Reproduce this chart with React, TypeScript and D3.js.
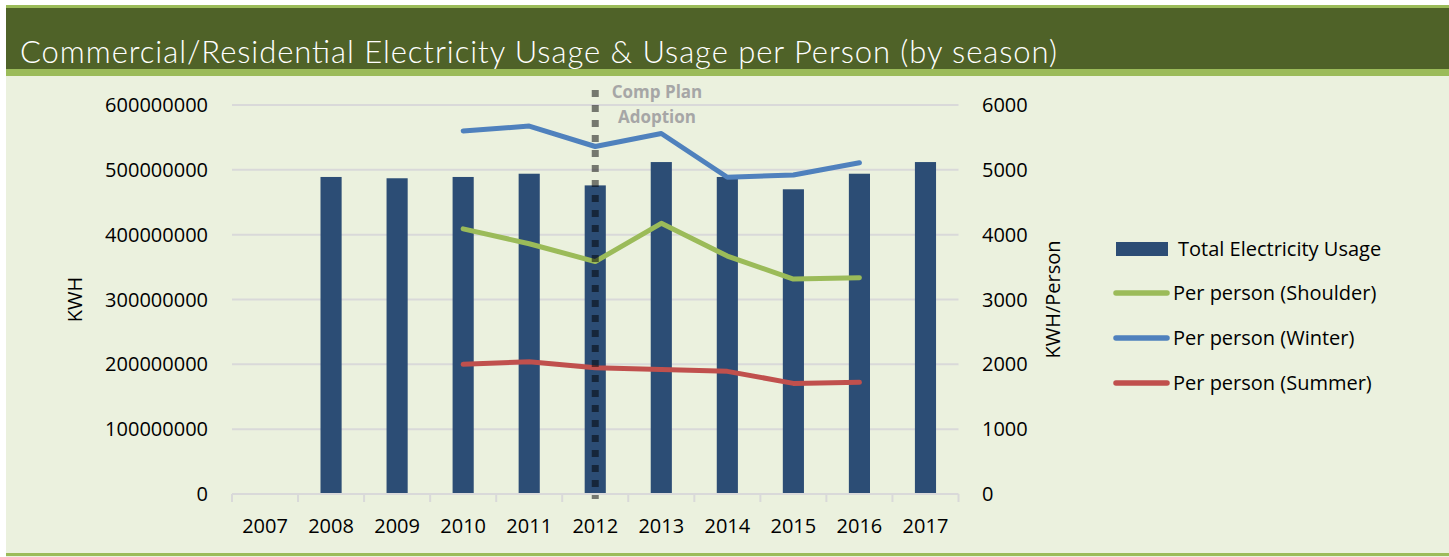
import * as React from "react"
import * as d3 from "d3"

const years = ["2007", "2008", "2009", "2010", "2011", "2012", "2013", "2014", "2015", "2016", "2017"]
const totalUsage = [null, 489e6, 487e6, 489e6, 494e6, 476e6, 512e6, 489e6, 470e6, 494e6, 512e6]
const shoulder = [null, null, null, 4090, 3860, 3585, 4175, 3670, 3315, 3335, null]
const winter = [null, null, null, 5600, 5675, 5360, 5560, 4885, 4920, 5110, null]
const summer = [null, null, null, 2000, 2040, 1948, 1922, 1892, 1706, 1722, null]
const leftTicks = [0, 1e8, 2e8, 3e8, 4e8, 5e8, 6e8]
const rightTicks = [0, 1000, 2000, 3000, 4000, 5000, 6000]

const seriesLines = [
  { name: "Per person (Shoulder)", values: shoulder, color: "#9bbb59" },
  { name: "Per person (Winter)", values: winter, color: "#4f81bd" },
  { name: "Per person (Summer)", values: summer, color: "#c0504d" },
]

const W = 1449
const H = 557
const font = "'Open Sans', sans-serif"

export default function App() {
  const plot = { left: 232, right: 958.5, top: 105, bottom: 494 }

  const x = d3.scaleBand().domain(years).range([plot.left, plot.right])
  const yLeft = d3.scaleLinear().domain([0, 6e8]).range([plot.bottom, plot.top])
  const yRight = d3.scaleLinear().domain([0, 6000]).range([plot.bottom, plot.top])
  const barW = x.bandwidth() * 0.32
  const cx = (yr: string) => (x(yr) as number) + x.bandwidth() / 2

  const line = d3
    .line<number | null>()
    .defined((d) => d != null)
    .x((_, i) => cx(years[i]))
    .y((d) => yRight(d as number))

  const compX = cx("2012")

  return (
    <svg width={W} height={H} style={{ position: "absolute", left: 0, top: 0 }}>
      <rect x={0} y={0} width={W} height={H} fill="#ffffff" />
      <rect x={6} y={5} width={W - 6} height={H - 5} fill="#ebf1de" />
      {/* header band */}
      <rect x={6} y={5} width={W - 6} height={3} fill="#9bbb59" />
      <rect x={6} y={8} width={W - 6} height={61} fill="#4f6228" />
      <rect x={6} y={69} width={W - 6} height={7} fill="#9bbb59" />
      <text
        x={20}
        y={63}
        fill="#ffffff"
        fontFamily="Lato, sans-serif"
        fontWeight={300}
        fontSize={31}
        textLength={1037}
        lengthAdjust="spacing"
      >
        Commercial/Residential Electricity Usage &amp; Usage per Person (by season)
      </text>
      <rect x={6} y={553} width={W - 6} height={3} fill="#9bbb59" />

      {/* gridlines */}
      {leftTicks.slice(1).map((t) => (
        <line key={t} x1={plot.left} x2={plot.right} y1={yLeft(t)} y2={yLeft(t)} stroke="#d9d9d9" strokeWidth={2} />
      ))}

      {/* bars */}
      {years.map((yr, i) =>
        totalUsage[i] == null ? null : (
          <rect
            key={yr}
            x={cx(yr) - barW / 2}
            y={yLeft(totalUsage[i] as number)}
            width={barW}
            height={plot.bottom - yLeft(totalUsage[i] as number)}
            fill="#2c4d75"
          />
        )
      )}

      {/* x axis */}
      <line x1={plot.left} x2={plot.right} y1={plot.bottom} y2={plot.bottom} stroke="#d9d9d9" strokeWidth={2} />
      {[...years.map((yr) => x(yr) as number), plot.right].map((t, i) => (
        <line key={i} x1={t} x2={t} y1={plot.bottom} y2={plot.bottom + 8} stroke="#d9d9d9" strokeWidth={2} />
      ))}
      {years.map((yr) => (
        <text key={yr} x={cx(yr)} y={533} textAnchor="middle" fontFamily={font} fontSize={20} fill="#000">
          {yr}
        </text>
      ))}

      {/* lines */}
      {seriesLines.map((s) => (
        <path key={s.name} d={line(s.values) || ""} fill="none" stroke={s.color} strokeWidth={5} strokeLinejoin="round" strokeLinecap="round" />
      ))}

      {/* comp plan marker */}
      <line x1={compX} x2={compX} y1={90} y2={499} stroke="#000" strokeOpacity={0.5} strokeWidth={7} strokeDasharray="7,8" />
      <text x={657} y={98} textAnchor="middle" fontFamily={font} fontWeight={700} fontSize={17} fill="#a6a6a6">
        Comp Plan
      </text>
      <text x={657} y={123} textAnchor="middle" fontFamily={font} fontWeight={700} fontSize={17} fill="#a6a6a6">
        Adoption
      </text>

      {/* left axis labels */}
      {leftTicks.map((t) => (
        <text key={t} x={208} y={yLeft(t)} dy="0.35em" textAnchor="end" fontFamily={font} fontSize={20} fill="#000">
          {d3.format("d")(t)}
        </text>
      ))}
      <text transform={`translate(82,${(plot.top + plot.bottom) / 2}) rotate(-90)`} textAnchor="middle" fontFamily={font} fontSize={20} fill="#000">
        KWH
      </text>

      {/* right axis labels */}
      {rightTicks.map((t) => (
        <text key={t} x={982} y={yRight(t)} dy="0.35em" textAnchor="start" fontFamily={font} fontSize={20} fill="#000">
          {t}
        </text>
      ))}
      <text transform={`translate(1060,${(plot.top + plot.bottom) / 2}) rotate(-90)`} textAnchor="middle" fontFamily={font} fontSize={20} fill="#000">
        KWH/Person
      </text>

      {/* legend */}
      <rect x={1116} y={242} width={52} height={14} fill="#2c4d75" />
      <text x={1178} y={256} fontFamily={font} fontSize={20} fill="#000">
        Total Electricity Usage
      </text>
      {seriesLines.map((s, i) => (
        <g key={s.name} transform={`translate(0,${293 + i * 45})`}>
          <line x1={1116} x2={1167} y1={0} y2={0} stroke={s.color} strokeWidth={5.5} strokeLinecap="round" />
          <text x={1173} y={7} fontFamily={font} fontSize={20} fill="#000">
            {s.name}
          </text>
        </g>
      ))}
    </svg>
  )
}
